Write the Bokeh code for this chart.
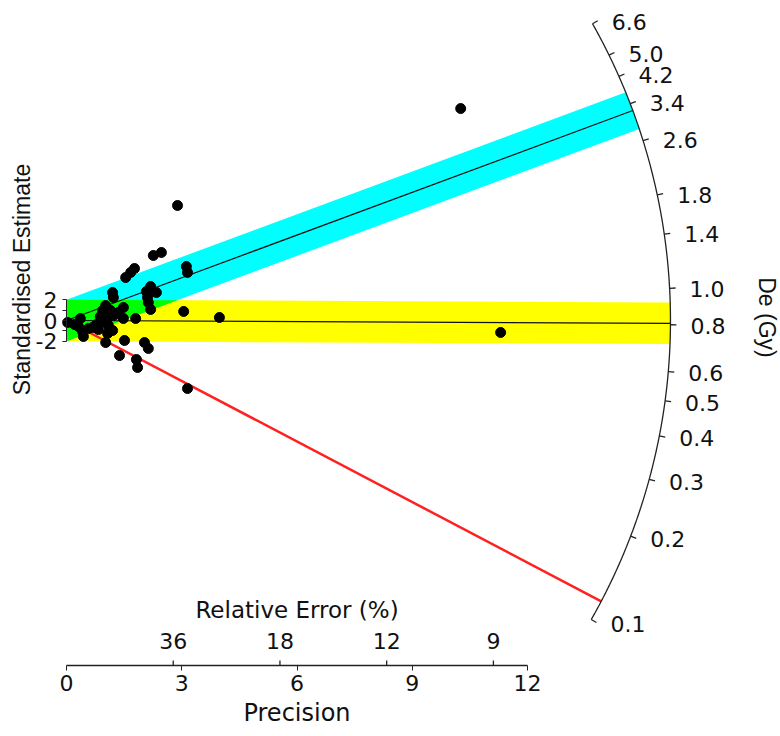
import numpy as np
from bokeh.plotting import figure
from bokeh.models import Range1d, LinearAxis, FixedTicker
from bokeh.core.properties import value
from bokeh.embed import file_html
from bokeh.resources import INLINE

# ---------------- data ----------------
precision = [10.26, 11.30, 3.15, 2.89, 2.26, 2.47, 1.54, 1.67, 1.77, 3.12,
             3.15, 1.20, 1.22, 2.19, 2.08, 2.34, 2.11, 2.13, 2.19, 3.05,
             3.98, 1.48, 1.35, 1.22, 1.02, 0.94, 0.88, 0.96, 1.48, 1.80,
             1.20, 1.07, 1.02, 1.51, 2.03, 2.13, 1.38, 1.82, 1.85, 1.30,
             1.07, 1.09, 0.78, 0.83, 0.03, 0.21, 0.31, 0.36, 0.42, 0.44,
             0.57, 0.68, 1.15]
std_estimate = [20.38, -1.15, -6.54, 11.06, 6.25, 6.54, 4.13, 4.62, 5.00, 5.19,
                4.62, 2.69, 2.21, 3.27, 2.79, 2.69, 2.21, 1.73, 1.06, 0.87,
                0.29, 1.25, 0.77, 0.48, 1.44, 0.96, 0.38, -0.10, 0.19, 0.19,
                -0.96, -1.25, -2.12, -1.92, -2.12, -2.69, -3.37, -3.75, -4.52, 0.67,
                0.19, -0.48, -0.38, -0.87, -0.19, -0.38, -0.58, 0.19, -1.06, -1.54,
                -0.77, -0.67, 0.96]

precision_ticks = [0, 3, 6, 9, 12]
rel_error_ticks = [36, 18, 12, 9]          # relative error in %
z_ticks = [-2, 0, 2]
z_minor_ticks = [-1, 1]
de_ticks = [0.1, 0.2, 0.3, 0.4, 0.5, 0.6, 0.8, 1.0, 1.4, 1.8, 2.6, 3.4, 4.2, 5.0, 6.6]
de_tick_labels = ["0.1", "0.2", "0.3", "0.4", "0.5", "0.6", "0.8", "1.0",
                  "1.4", "1.8", "2.6", "3.4", "4.2", "5.0", "6.6"]
central_de = 0.821        # reference value z0 (Gy) of the radial plot
cyan_centre = 3.23        # centrality of dataset 2 (Gy)
yellow_centre = 0.807     # centrality of dataset 1 (Gy)
red_line_de = 0.118       # additional reference line (Gy)
band_half_width = 2.0     # +/- 2 standard estimates

# ---------------- layout ----------------
W, H = 780, 736
X0, X1 = -1.7178, 18.584
Y0, Y1 = -40.0, 30.77
XAXIS_Y = -33.17          # where the precision axis sits (standardised units)
ARC_RADIUS = 15.72        # arc radius in precision units
sx = W / (X1 - X0)
sy = H / (Y1 - Y0)
R = ARC_RADIUS * sx       # arc radius on screen

HFONT = "DejaVu Sans"
VFONT = "Liberation Sans"
INK = "#111111"
AXC = "#222222"
z0 = np.log(central_de)


def slope(v):
    return np.log(v) - z0


def theta(v):
    return np.arctan(slope(v) * sy / sx)


def arc_xy(t, r=R):
    return r * np.cos(t) / sx, r * np.sin(t) / sy


def line_hit(m, b):
    A = sx ** 2 + (m * sy) ** 2
    B = 2 * m * b * sy ** 2
    C = (b * sy) ** 2 - R ** 2
    x = (-B + np.sqrt(B * B - 4 * A * C)) / (2 * A)
    return x, m * x + b


def band_polygon(m, h=band_half_width, n=60):
    xl, yl = line_hit(m, -h)
    xu, yu = line_hit(m, h)
    tl = np.arctan2(yl * sy, xl * sx)
    tu = np.arctan2(yu * sy, xu * sx)
    ax, ay = arc_xy(np.linspace(tl, tu, n))
    xs = [0.0, xl] + list(ax) + [xu, 0.0]
    ys = [-h, yl] + list(ay) + [yu, h]
    return xs, ys


p = figure(width=W, height=H,
           x_range=Range1d(X0, X1), y_range=Range1d(Y0, Y1),
           x_axis_type=None, y_axis_type=None,
           output_backend="svg", toolbar_location=None,
           min_border=0)
p.outline_line_color = None
p.background_fill_color = "white"

# bands
m_y = slope(yellow_centre)
m_c = slope(cyan_centre)
xs, ys = band_polygon(m_y)
p.patch(xs, ys, fill_color="#FFFF00", line_color=None)
xs, ys = band_polygon(m_c)
p.patch(xs, ys, fill_color="#00FFFF", line_color=None)
xg = 2 * band_half_width / (m_c - m_y)
p.patch([0, 0, xg], [-band_half_width, band_half_width, m_y * xg + band_half_width],
        fill_color="#00FF00", line_color=None)

# centrality lines
for v, col, w in [(yellow_centre, INK, 1.2), (cyan_centre, INK, 1.2),
                  (red_line_de, "#FF2020", 2.5)]:
    ex, ey = arc_xy(theta(v))
    p.line([0, ex], [0, ey], line_color=col, line_width=w)

# De arc
ts = np.linspace(theta(de_ticks[0]), theta(de_ticks[-1]), 300)
ax, ay = arc_xy(ts)
p.line(ax, ay, line_color=AXC, line_width=1.3)
tt = np.array([theta(v) for v in de_ticks])
x_in, y_in = arc_xy(tt)
x_out, y_out = arc_xy(tt, R + 6)
p.segment(x_in, y_in, x_out, y_out, line_color=AXC, line_width=1.3)
p.text(x_out, y_out, text=de_tick_labels, text_align="left", text_baseline="middle",
       x_offset=14, y_offset=1, text_font=value(HFONT), text_font_size="22px",
       text_color=INK)
p.text([X1], [0], text=["De (Gy)"], angle=-np.pi / 2, x_offset=-14, y_offset=-3,
       text_align="center", text_baseline="middle",
       text_font=value(VFONT), text_font_size="23px", text_color=INK)

# relative error axis (ticks above the precision axis)
re_x = [100.0 / r for r in rel_error_ticks]
p.segment(re_x, [XAXIS_Y] * len(re_x), re_x, [XAXIS_Y + 5 / sy] * len(re_x),
          line_color=AXC, line_width=1.3)
p.text(re_x, [XAXIS_Y] * len(re_x), text=[str(r) for r in rel_error_ticks],
       y_offset=-24, text_align="center", text_baseline="middle",
       text_font=value(HFONT), text_font_size="22px", text_color=INK)
mid_prec = (precision_ticks[0] + precision_ticks[-1]) / 2
p.text([mid_prec], [XAXIS_Y], text=["Relative Error (%)"],
       y_offset=-55, text_align="center", text_baseline="middle",
       text_font=value(HFONT), text_font_size="23px", text_color=INK)
p.text([mid_prec], [XAXIS_Y], text=["Precision"],
       y_offset=48, text_align="center", text_baseline="middle",
       text_font=value(HFONT), text_font_size="24px", text_color=INK)

# y-axis title
p.text([0], [0], text=["Standardised Estimate"], angle=np.pi / 2,
       x_offset=-44, y_offset=-41, text_align="center", text_baseline="middle",
       text_font=value(VFONT), text_font_size="23px", text_color=INK)

# points
p.scatter(precision, std_estimate, size=10, fill_color="black", line_color="black")

# precision axis
xaxis = LinearAxis(bounds=(precision_ticks[0], precision_ticks[-1]),
                   ticker=FixedTicker(ticks=precision_ticks), fixed_location=XAXIS_Y)
xaxis.major_label_text_font = HFONT
xaxis.major_label_text_font_size = "22px"
xaxis.major_label_text_color = INK
xaxis.major_label_standoff = 5
xaxis.major_tick_out = 5
xaxis.major_tick_in = 0
xaxis.minor_tick_line_color = None
xaxis.axis_line_color = AXC
xaxis.major_tick_line_color = AXC
xaxis.axis_line_width = 1.3
p.add_layout(xaxis, "below")

# standardised estimate axis
yaxis = LinearAxis(bounds=(z_ticks[0], z_ticks[-1]),
                   ticker=FixedTicker(ticks=z_ticks, minor_ticks=z_minor_ticks),
                   fixed_location=0)
yaxis.major_label_overrides = {t: str(t) for t in z_ticks}
yaxis.major_label_text_font = HFONT
yaxis.major_label_text_font_size = "22px"
yaxis.major_label_text_color = INK
yaxis.major_label_standoff = 5
yaxis.major_tick_out = 4
yaxis.major_tick_in = 0
yaxis.minor_tick_out = 4
yaxis.minor_tick_in = 0
yaxis.axis_line_color = AXC
yaxis.major_tick_line_color = AXC
yaxis.minor_tick_line_color = AXC
p.add_layout(yaxis, "left")

open("out.html", "w").write(file_html(p, INLINE))
